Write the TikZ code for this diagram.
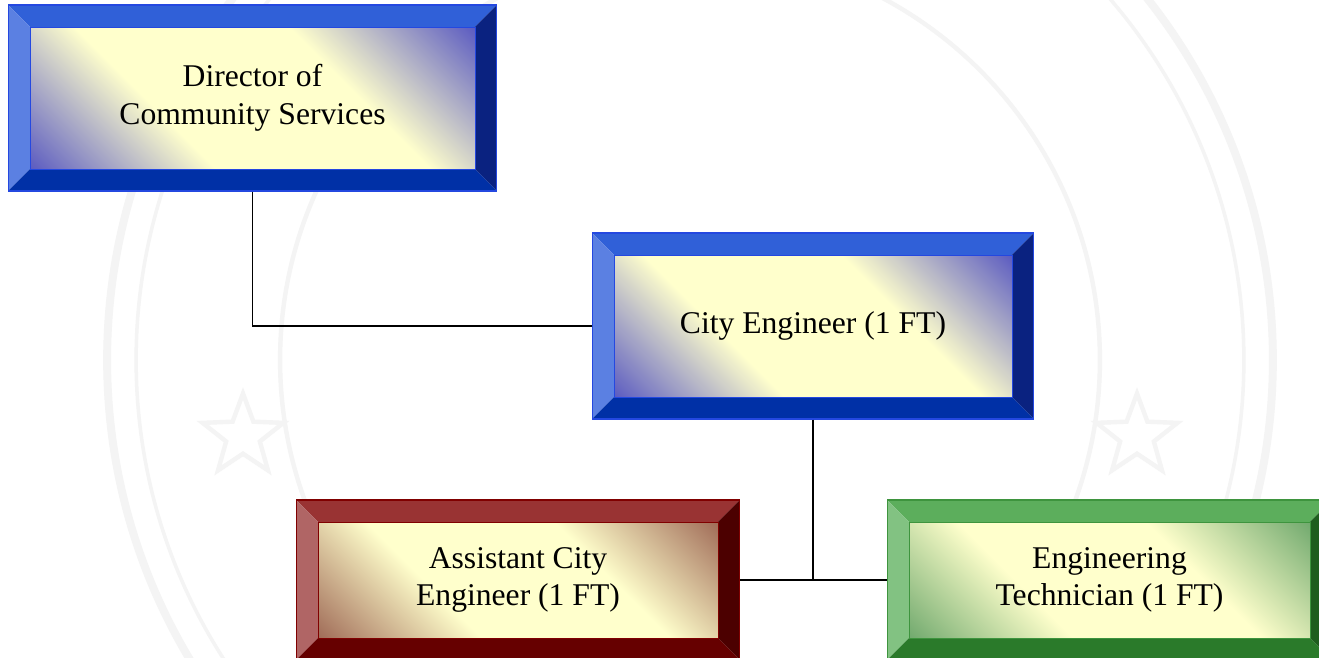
\documentclass[tikz,border=0pt]{standalone}
\usepackage{fontspec}
\setmainfont{Liberation Serif}
\usetikzlibrary{shapes.geometric}

\definecolor{paleyellow}{HTML}{FFFFCC}
\definecolor{sealgray}{HTML}{F4F4F4}
\definecolor{bluetop}{HTML}{3060D8}
\definecolor{blueleft}{HTML}{5B80E2}
\definecolor{blueright}{HTML}{0A2280}
\definecolor{bluebottom}{HTML}{0030A6}
\definecolor{bluetint}{HTML}{5050C0}
\definecolor{blueline}{HTML}{2448E0}
\definecolor{redtop}{HTML}{993333}
\definecolor{redleft}{HTML}{B06565}
\definecolor{redright}{HTML}{4C0000}
\definecolor{redbottom}{HTML}{660000}
\definecolor{redtint}{HTML}{9A6250}
\definecolor{redline}{HTML}{800000}
\definecolor{greentop}{HTML}{5CAE5C}
\definecolor{greenleft}{HTML}{82C282}
\definecolor{greenright}{HTML}{1E5E1E}
\definecolor{greenbottom}{HTML}{2A7A2A}
\definecolor{greentint}{HTML}{68A468}
\definecolor{greenline}{HTML}{3E943E}

\pgfdeclarehorizontalshading{bluefill}{100bp}{color(0bp)=(bluetint); color(13bp)=(bluetint); color(37bp)=(paleyellow); color(63bp)=(paleyellow); color(87bp)=(bluetint); color(100bp)=(bluetint)}
\pgfdeclarehorizontalshading{redfill}{100bp}{color(0bp)=(redtint); color(13bp)=(redtint); color(37bp)=(paleyellow); color(63bp)=(paleyellow); color(87bp)=(redtint); color(100bp)=(redtint)}
\pgfdeclarehorizontalshading{greenfill}{100bp}{color(0bp)=(greentint); color(13bp)=(greentint); color(37bp)=(paleyellow); color(63bp)=(paleyellow); color(87bp)=(greentint); color(100bp)=(greentint)}

\newcommand{\bw}{0.44cm}

\tikzset{
  bevelbox/.style n args={6}{rectangle, draw=#6, line width=0.6pt, inner sep=0pt, align=center,
    font=\fontsize{18pt}{21.5pt}\selectfont,
    path picture={
      \coordinate (nw) at (path picture bounding box.north west);
      \coordinate (ne) at (path picture bounding box.north east);
      \coordinate (sw) at (path picture bounding box.south west);
      \coordinate (se) at (path picture bounding box.south east);
      \coordinate (inw) at ([xshift=\bw,yshift=-\bw]nw);
      \coordinate (ine) at ([xshift=-\bw,yshift=-\bw]ne);
      \coordinate (isw) at ([xshift=\bw,yshift=\bw]sw);
      \coordinate (ise) at ([xshift=-\bw,yshift=\bw]se);
      \fill[#1] (nw) -- (ne) -- (ine) -- (inw) -- cycle;
      \fill[#2] (nw) -- (inw) -- (isw) -- (sw) -- cycle;
      \fill[#3] (ne) -- (se) -- (ise) -- (ine) -- cycle;
      \fill[#4] (sw) -- (isw) -- (ise) -- (se) -- cycle;
      \shade[shading=#5, shading angle=45] (inw) rectangle (ise);
      \draw[#6, line width=0.4pt] (inw) rectangle (ise);
    }},
  bluebox/.style={bevelbox={bluetop}{blueleft}{blueright}{bluebottom}{bluefill}{blueline}},
  redbox/.style={bevelbox={redtop}{redleft}{redright}{redbottom}{redfill}{redline}},
  greenbox/.style={bevelbox={greentop}{greenleft}{greenright}{greenbottom}{greenfill}{greenline}},
  link/.style={draw=black, line width=1.1pt}
}

\begin{document}
\begin{tikzpicture}[x=0.02cm, y=-0.02cm]
\clip (0,0) rectangle (1319,658);
\fill[white] (0,0) rectangle (1319,658);
% faint seal behind the chart
\draw[sealgray, line width=4.5pt] (690,360) circle (11.66cm);
\draw[sealgray, line width=2pt] (690,360) circle (11.08cm);
\draw[sealgray, line width=2.5pt] (690,360) circle (8.2cm);
\node [star, star points=5, star point ratio=2.4, draw=sealgray, line width=2.5pt, minimum size=1.7cm] (starL) at (243,436) {};
\node [star, star points=5, star point ratio=2.4, draw=sealgray, line width=2.5pt, minimum size=1.7cm] (starR) at (1137,436) {};

\node [bluebox, minimum width=9.78cm, minimum height=3.72cm] (dir) at (252.5,98) {Director of\\Community Services};
\node [bluebox, minimum width=8.84cm, minimum height=3.72cm] (city) at (813,326) {City Engineer (1 FT)};
\node [redbox, minimum width=8.88cm, minimum height=3.2cm] (asst) at (518,580) {Assistant City\\Engineer (1 FT)};
\node [greenbox, minimum width=8.9cm, minimum height=3.2cm] (tech) at (1109.5,580) {Engineering\\Technician (1 FT)};

\draw [link] (dir.south) |- (city.west);
\draw [link] (city.south) -- (city.south |- asst.east);
\draw [link] (asst.east) -- (tech.west);
\end{tikzpicture}
\end{document}
